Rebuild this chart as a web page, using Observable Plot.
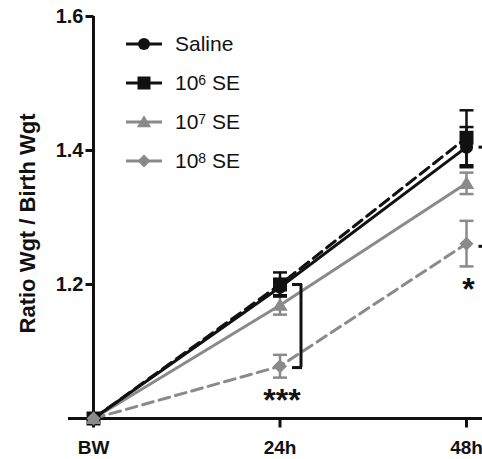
<!DOCTYPE html>
<html>
<head>
<meta charset="utf-8">
<script src="https://cdn.jsdelivr.net/npm/d3@7"></script>
<script src="https://cdn.jsdelivr.net/npm/@observablehq/plot@0.6"></script>
<style>
  body { margin: 0; background: #fff; }
  #wrap { position: relative; width: 482px; height: 459px; font-family: "Liberation Sans", Arial, Helvetica, sans-serif; }
  #legend { position: absolute; left: 124px; top: 24px; }
  .row { height: 39px; display: flex; align-items: center; font-size: 21px; color: #111; }
  .row svg { margin-right: 11px; }
  .row sup { font-size: 14px; vertical-align: 5px; line-height: 0; }
</style>
</head>
<body>
<div id="wrap"><div id="legend"></div></div>
<script>
// ---- data ----
const timeLabels = ["BW", "24h", "48h"];
const hours = [0, 24, 48];
const seriesNames = ["Saline", "10^6 SE", "10^7 SE", "10^8 SE"];
const salineMean = [1.0, 1.196, 1.405];
const salineErr  = [0, 0.012, 0.030];
const se6Mean    = [1.0, 1.200, 1.419];
const se6Err     = [0, 0.018, 0.041];
const se7Mean    = [1.0, 1.169, 1.351];
const se7Err     = [0, 0.014, 0.016];
const se8Mean    = [1.0, 1.078, 1.261];
const se8Err     = [0, 0.017, 0.034];
const yTicks = [1.2, 1.4, 1.6];
const sigHours = [24, 48];
const sigUpper = [1.200, 1.405];
const sigLower = [1.076, 1.257];
const sigBelow = [1.061, 1.227];
const sigText  = ["***", "*"];

// ---- styles ----
const BLACK = "#111", GRAY = "#8a8a8a";
const circle = {draw(ctx, size){ const r = Math.sqrt(size/Math.PI); ctx.moveTo(r,0); ctx.arc(0,0,r,0,2*Math.PI); }};
const square = {draw(ctx, size){ const r = Math.sqrt(size/Math.PI); ctx.rect(-r,-r,2*r,2*r); }};
const triangle = {draw(ctx, size){ const r = Math.sqrt(size/Math.PI); ctx.moveTo(0,-r*1.05); ctx.lineTo(r*1.1,r*0.8); ctx.lineTo(-r*1.1,r*0.8); ctx.closePath(); }};
const diamond = {draw(ctx, size){ const r = Math.sqrt(size/Math.PI); ctx.moveTo(0,-r); ctx.lineTo(r,0); ctx.lineTo(0,r); ctx.lineTo(-r,0); ctx.closePath(); }};
const hline = {draw(ctx, size){ const r = Math.sqrt(size/Math.PI); ctx.moveTo(-r,0); ctx.lineTo(r,0); }};
const vline = {draw(ctx, size){ const r = Math.sqrt(size/Math.PI); ctx.moveTo(0,-r); ctx.lineTo(0,r); }};

const series = [
  {name: seriesNames[0], mean: salineMean, err: salineErr, color: BLACK, dash: null, symbol: circle, r: 6.5},
  {name: seriesNames[1], mean: se6Mean, err: se6Err, color: BLACK, dash: "11,6", symbol: square, r: 7},
  {name: seriesNames[2], mean: se7Mean, err: se7Err, color: GRAY, dash: null, symbol: triangle, r: 7},
  {name: seriesNames[3], mean: se8Mean, err: se8Err, color: GRAY, dash: "11,6", symbol: diamond, r: 7}
];
series.forEach(s => {
  s.rows = hours.map((h, i) => ({hour: h, mean: s.mean[i], lo: s.mean[i] - s.err[i], hi: s.mean[i] + s.err[i], err: s.err[i]}));
});
const sig = sigHours.map((h, i) => ({hour: h, top: sigUpper[i], bottom: sigLower[i], below: sigBelow[i], text: sigText[i]}));

const marks = [];
// axes lines
marks.push(Plot.ruleY([1.0], {stroke: BLACK, strokeWidth: 3, insetLeft: -25, insetRight: -20}));
marks.push(Plot.ruleX([0], {y1: 1.0, y2: 1.6, stroke: BLACK, strokeWidth: 3}));
// ticks
marks.push(Plot.dot(yTicks, {x: 0, y: d => d, symbol: hline, r: 4, dx: -4, stroke: BLACK, strokeWidth: 3, fill: "none"}));
marks.push(Plot.dot(hours, {x: d => d, y: 1.0, symbol: vline, r: 4, dy: 5, stroke: BLACK, strokeWidth: 3, fill: "none"}));
marks.push(Plot.text(yTicks, {x: 0, y: d => d, text: d => d.toFixed(1), textAnchor: "end", dx: -10, fontSize: 20, fontWeight: "bold", fill: BLACK}));
marks.push(Plot.text(hours, {x: d => d, y: 1.0, text: (d, i) => timeLabels[i], dy: 29, fontSize: 19, fontWeight: "bold", fill: BLACK}));
marks.push(Plot.text(["Ratio Wgt / Birth Wgt"], {frameAnchor: "left", textAnchor: "middle", rotate: -90, dx: -66, dy: 6, fontSize: 22, fontWeight: "bold", fill: BLACK}));

// lines (gray first, black on top)
[3, 2, 1, 0].forEach(k => {
  const s = series[k];
  marks.push(Plot.line(s.rows, {x: "hour", y: "mean", stroke: s.color, strokeWidth: 3, strokeDasharray: s.dash}));
});
// error bars
[3, 2, 0, 1].forEach(k => {
  const s = series[k];
  const e = s.rows.filter(d => d.err > 0);
  marks.push(Plot.ruleX(e, {x: "hour", y1: "lo", y2: "hi", stroke: s.color, strokeWidth: 2.5}));
  marks.push(Plot.dot(e, {x: "hour", y: "lo", symbol: hline, r: 7, stroke: s.color, strokeWidth: 2.5, fill: "none"}));
  marks.push(Plot.dot(e, {x: "hour", y: "hi", symbol: hline, r: 7, stroke: s.color, strokeWidth: 2.5, fill: "none"}));
});
// points
[0, 1, 2, 3].forEach(k => {
  const s = series[k];
  marks.push(Plot.dot(s.rows, {x: "hour", y: "mean", symbol: s.symbol, r: s.r, fill: s.color, stroke: "none"}));
});
// significance brackets
marks.push(Plot.ruleX(sig, {x: "hour", y1: "top", y2: "bottom", dx: 21, stroke: BLACK, strokeWidth: 3}));
marks.push(Plot.dot(sig, {x: "hour", y: "top", symbol: hline, r: 5, dx: 17, stroke: BLACK, strokeWidth: 3, fill: "none"}));
marks.push(Plot.dot(sig, {x: "hour", y: "bottom", symbol: hline, r: 5, dx: 17, stroke: BLACK, strokeWidth: 3, fill: "none"}));
marks.push(Plot.text(sig, {x: "hour", y: "below", text: "text", dy: 23, dx: 2, fontSize: 32, fontWeight: "bold", fill: BLACK}));

const chart = Plot.plot({
  width: 482, height: 459,
  marginLeft: 93, marginRight: 16, marginTop: 16, marginBottom: 41,
  x: {type: "linear", domain: [0, 48], axis: null},
  y: {type: "linear", domain: [1.0, 1.6], axis: null},
  style: {fontFamily: "'Liberation Sans', Arial, Helvetica, sans-serif", background: "#fff", overflow: "hidden"},
  marks
});
document.getElementById("wrap").prepend(chart);

// legend
const leg = d3.select("#legend");
series.forEach(s => {
  const row = leg.append("div").attr("class", "row");
  const sv = row.append("svg").attr("width", 40).attr("height", 20);
  sv.append("line").attr("x1", 2).attr("x2", 38).attr("y1", 10).attr("y2", 10)
    .attr("stroke", s.color).attr("stroke-width", 3);
  sv.append("path").attr("transform", "translate(20,10)")
    .attr("d", d3.symbol(s.symbol, (s.r - 0.5) * (s.r - 0.5) * Math.PI)()).attr("fill", s.color);
  const parts = s.name.split("^");
  if (parts.length === 1) row.append("span").text(parts[0]);
  else {
    const sp = row.append("span");
    const [exp, rest] = parts[1].split(" ");
    sp.append("span").text(parts[0]);
    sp.append("sup").text(exp);
    sp.append("span").text(" " + rest);
  }
});
</script>
</body>
</html>
